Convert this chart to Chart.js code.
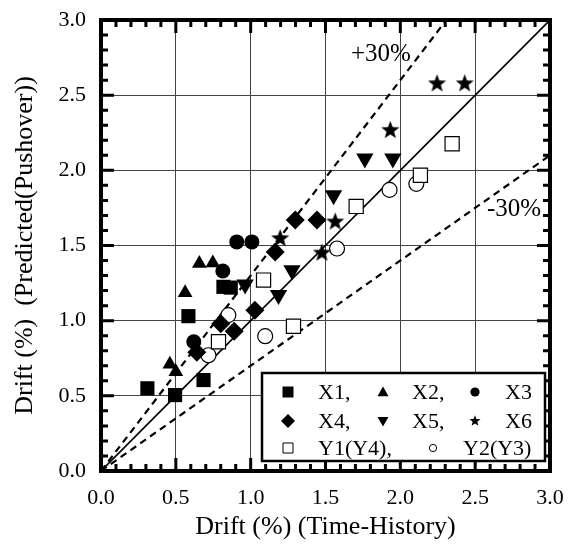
<!DOCTYPE html>
<html>
<head>
<meta charset="utf-8">
<script src="https://cdn.jsdelivr.net/npm/chart.js@4"></script>
<style>body{margin:0;background:#fff}</style>
</head>
<body>
<canvas id="chart" width="579" height="544"></canvas>
<script>
// drift values: time-history (x) vs pushover prediction (y)
const x1X = [0.31, 0.495, 0.685, 0.584, 0.818, 0.867];
const x1Y = [0.55, 0.505, 0.605, 1.03, 1.225, 1.22];
const x2X = [0.46, 0.50, 0.562, 0.657, 0.747];
const x2Y = [0.71, 0.66, 1.185, 1.38, 1.384];
const x3X = [0.62, 0.814, 0.907, 1.008];
const x3Y = [0.86, 1.33, 1.524, 1.524];
const x4X = [0.64, 0.80, 0.89, 1.028, 1.164, 1.298, 1.443];
const x4Y = [0.79, 0.98, 0.93, 1.07, 1.457, 1.67, 1.67];
const x5X = [0.963, 1.186, 1.276, 1.554, 1.763, 1.95];
const x5Y = [1.24, 1.17, 1.336, 1.834, 2.078, 2.078];
const x6X = [1.197, 1.476, 1.565, 1.933, 2.245, 2.43];
const x6Y = [1.546, 1.45, 1.657, 2.266, 2.576, 2.576];
const y1X = [0.785, 1.086, 1.286, 1.705, 2.134, 2.346];
const y1Y = [0.86, 1.27, 0.963, 1.76, 1.967, 2.177];
const y2X = [0.718, 0.851, 1.097, 1.577, 1.928, 2.107];
const y2Y = [0.77, 1.037, 0.897, 1.48, 1.87, 1.91];

const seriesNames = ['X1', 'X2', 'X3', 'X4', 'X5', 'X6', 'Y1(Y4)', 'Y2(Y3)'];
// y = f * x reference lines
const refFactors = [1.0, 1.3, 0.7];
const refLabels = ['', '+30%', '-30%'];
const refLabelAt = [null, [1.87, 2.77], [2.76, 1.74]];

const FONT = '"Liberation Serif", "Times New Roman", serif';
Chart.defaults.font.family = FONT;
Chart.defaults.font.size = 22;
Chart.defaults.color = '#000';

function pts(xs, ys) { return xs.map((v, i) => ({ x: v, y: ys[i] })); }

function makeStar(r) {
  const c = document.createElement('canvas');
  const s = Math.ceil(r * 2 + 2);
  c.width = c.height = s;
  const g = c.getContext('2d');
  g.beginPath();
  for (let i = 0; i < 10; i++) {
    const a = -Math.PI / 2 + i * Math.PI / 5;
    const rr = i % 2 ? r * 0.42 : r;
    g.lineTo(s / 2 + rr * Math.cos(a), s / 2 + rr * Math.sin(a));
  }
  g.closePath();
  g.fillStyle = '#000';
  g.fill();
  return c;
}
const starImg = makeStar(9.5);

function ser(label, data, style, radius, extra) {
  return Object.assign({
    label: label, data: data, pointStyle: style, pointRadius: radius,
    pointHoverRadius: radius, backgroundColor: '#000', borderColor: '#000',
    borderWidth: 0, showLine: false, order: 1
  }, extra || {});
}

const datasets = [
  ser(seriesNames[0], pts(x1X, x1Y), 'rect', 10),
  ser(seriesNames[1], pts(x2X, x2Y), 'triangle', 8.5),
  ser(seriesNames[2], pts(x3X, x3Y), 'circle', 7.5),
  ser(seriesNames[3], pts(x4X, x4Y), 'rectRot', 9.5),
  ser(seriesNames[4], pts(x5X, x5Y), 'triangle', 10, { pointRotation: 180 }),
  ser(seriesNames[5], pts(x6X, x6Y), starImg, 10),
  ser(seriesNames[6], pts(y1X, y1Y), 'rect', 10, { backgroundColor: '#fff', borderWidth: 1.2 }),
  ser(seriesNames[7], pts(y2X, y2Y), 'circle', 7.5, { backgroundColor: '#fff', borderWidth: 1.2 })
];

refFactors.forEach((f, i) => {
  const xEnd = Math.min(3, 3 / f);
  datasets.push({
    label: 'ref' + i,
    data: [{ x: 0, y: 0 }, { x: xEnd, y: xEnd * f }],
    showLine: true, pointRadius: 0, borderColor: '#000',
    borderWidth: i === 0 ? 1.6 : 2.2,
    borderDash: i === 0 ? [] : [7, 5],
    order: 10
  });
});

// marker drawing for the legend box
function marker(ctx, type, x, y, s) {
  ctx.beginPath();
  if (type === 'sq' || type === 'osq') {
    ctx.rect(x - s, y - s, 2 * s, 2 * s);
  } else if (type === 'dia') {
    ctx.moveTo(x, y - s); ctx.lineTo(x + s, y); ctx.lineTo(x, y + s); ctx.lineTo(x - s, y);
    ctx.closePath();
  } else if (type === 'up') {
    ctx.moveTo(x, y - s); ctx.lineTo(x + s, y + s * 0.75); ctx.lineTo(x - s, y + s * 0.75);
    ctx.closePath();
  } else if (type === 'down') {
    ctx.moveTo(x, y + s); ctx.lineTo(x + s, y - s * 0.75); ctx.lineTo(x - s, y - s * 0.75);
    ctx.closePath();
  } else if (type === 'circ' || type === 'ocirc') {
    ctx.arc(x, y, s, 0, Math.PI * 2);
  } else if (type === 'star') {
    for (let i = 0; i < 10; i++) {
      const a = -Math.PI / 2 + i * Math.PI / 5;
      const rr = i % 2 ? s * 0.42 : s;
      ctx.lineTo(x + rr * Math.cos(a), y + rr * Math.sin(a));
    }
    ctx.closePath();
  }
  if (type === 'osq' || type === 'ocirc') {
    ctx.fillStyle = '#fff'; ctx.fill();
    ctx.lineWidth = 1; ctx.strokeStyle = '#000'; ctx.stroke();
  } else {
    ctx.fillStyle = '#000'; ctx.fill();
  }
}

const legendItems = [
  { m: 'sq', s: 5.5, mx: 288, tx: 318, y: 392, t: seriesNames[0] + ',' },
  { m: 'up', s: 5.5, mx: 383, tx: 412, y: 392, t: seriesNames[1] + ',' },
  { m: 'circ', s: 4.6, mx: 475, tx: 505, y: 392, t: seriesNames[2] },
  { m: 'dia', s: 7, mx: 288, tx: 318, y: 421, t: seriesNames[3] + ',' },
  { m: 'down', s: 5.5, mx: 383, tx: 412, y: 421, t: seriesNames[4] + ',' },
  { m: 'star', s: 5.8, mx: 475, tx: 505, y: 421, t: seriesNames[5] },
  { m: 'osq', s: 5, mx: 288, tx: 318, y: 448, t: seriesNames[6] + ',' },
  { m: 'ocirc', s: 3.6, mx: 433, tx: 463, y: 448, t: seriesNames[7] }
];

const framePlugin = {
  id: 'frame',
  afterDatasetsDraw(chart) {
    const { ctx, chartArea: a, scales: { x, y } } = chart;
    ctx.save();
    ctx.strokeStyle = '#000';
    ctx.lineWidth = 3;
    // inward ticks on all four sides
    for (let i = 0; i <= 30; i++) {
      const v = i / 10, len = i % 5 === 0 ? 13 : 7;
      const px = x.getPixelForValue(v), py = y.getPixelForValue(v);
      ctx.beginPath();
      ctx.moveTo(px, a.bottom); ctx.lineTo(px, a.bottom - len);
      ctx.moveTo(px, a.top); ctx.lineTo(px, a.top + len);
      ctx.moveTo(a.left, py); ctx.lineTo(a.left + len, py);
      ctx.moveTo(a.right, py); ctx.lineTo(a.right - len, py);
      ctx.stroke();
    }
    ctx.lineWidth = 4;
    ctx.strokeRect(a.left, a.top, a.right - a.left, a.bottom - a.top);
    // +30% / -30% labels
    ctx.font = '25px ' + FONT;
    ctx.fillStyle = '#000';
    ctx.textAlign = 'center';
    ctx.textBaseline = 'middle';
    refLabels.forEach((t, i) => {
      if (!t) return;
      const p = refLabelAt[i];
      ctx.fillText(t, x.getPixelForValue(p[0]), y.getPixelForValue(p[1]));
    });
    ctx.restore();
  },
  afterDraw(chart) {
    const ctx = chart.ctx;
    ctx.save();
    ctx.fillStyle = '#fff';
    ctx.fillRect(262, 373, 283, 88);
    ctx.lineWidth = 2.5;
    ctx.strokeStyle = '#000';
    ctx.strokeRect(262, 373, 283, 88);
    ctx.font = '22px ' + FONT;
    ctx.textAlign = 'left';
    ctx.textBaseline = 'middle';
    legendItems.forEach(it => {
      marker(ctx, it.m, it.mx, it.y, it.s);
      ctx.fillStyle = '#000';
      ctx.fillText(it.t, it.tx, it.y + 1);
    });
    ctx.restore();
  }
};

new Chart(document.getElementById('chart'), {
  type: 'scatter',
  data: { datasets: datasets },
  plugins: [framePlugin],
  options: {
    responsive: false,
    animation: false,
    layout: { padding: { left: 0, top: 20, right: 29, bottom: 0 } },
    plugins: { legend: { display: false }, tooltip: { enabled: false } },
    scales: {
      x: {
        type: 'linear', min: 0, max: 3,
        afterFit: s => { s.height = 73; s.paddingLeft = 0; s.paddingRight = 0; },
        ticks: { stepSize: 0.5, padding: 14, callback: v => v.toFixed(1), maxRotation: 0 },
        grid: { color: '#444', lineWidth: 1, drawTicks: false },
        border: { display: false },
        title: { display: true, text: 'Drift (%) (Time-History)', font: { size: 26 }, padding: { top: 0, bottom: 1 } }
      },
      y: {
        type: 'linear', min: 0, max: 3,
        afterFit: s => { s.width = 101; s.paddingTop = 0; s.paddingBottom = 0; },
        ticks: { stepSize: 0.5, padding: 15, callback: v => v.toFixed(1) },
        grid: { color: '#444', lineWidth: 1, drawTicks: false },
        border: { display: false },
        title: { display: true, text: 'Drift (%)  (Predicted(Pushover))', font: { size: 26 }, padding: { top: 10, bottom: 0 } }
      }
    }
  }
});
</script>
</body>
</html>
